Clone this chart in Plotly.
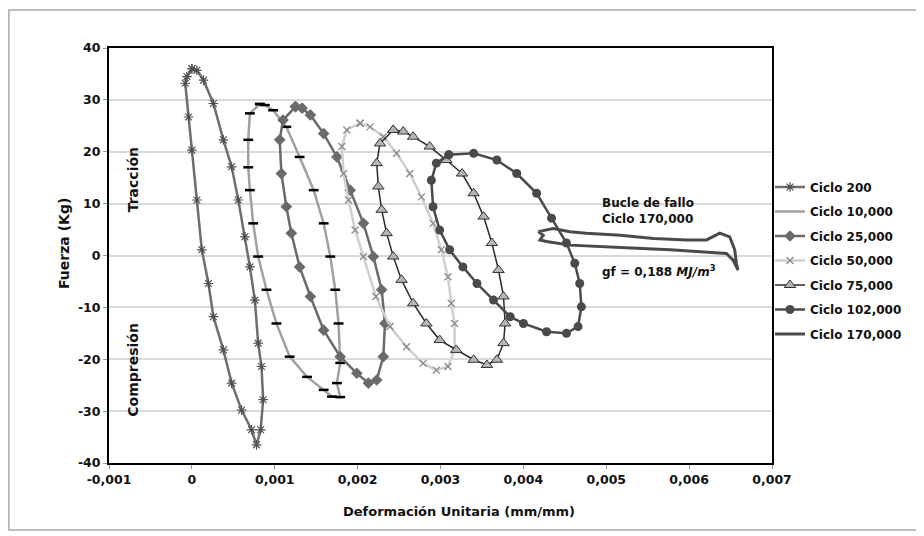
import plotly.graph_objects as go

# ---- data ----
c200_x = [0.0, -0.00006, -0.00008, -0.00004, 0.0, 0.00006, 0.00012, 0.0002, 0.00026, 0.00038, 0.00048, 0.0006, 0.00072, 0.00078,
          0.00083, 0.00086, 0.00084, 0.0008, 0.00076, 0.0007, 0.00064, 0.00056, 0.00048, 0.00038, 0.00026, 0.00014, 0.00006, 0.0]
c200_y = [36.0, 34.5, 33.2, 26.7, 20.3, 10.7, 1.1, -5.4, -11.8, -18.2, -24.6, -29.8, -33.6, -36.5,
          -33.6, -27.8, -21.4, -16.9, -8.6, -2.2, 3.6, 10.7, 17.1, 22.3, 29.3, 33.8, 35.7, 36.0]

c10k_x = [0.00082, 0.0007, 0.00068, 0.00068, 0.0007, 0.00074, 0.0008, 0.0009, 0.00102, 0.00118, 0.00139, 0.00159, 0.00169, 0.00179,
          0.00175, 0.00179, 0.00177, 0.00173, 0.00167, 0.00159, 0.00147, 0.0013, 0.00114, 0.00098, 0.00088, 0.00082]
c10k_y = [29.2, 27.4, 22.3, 17.0, 12.6, 6.2, -0.2, -6.6, -13.1, -19.5, -23.4, -25.9, -27.2, -27.3,
          -24.6, -20.7, -13.1, -6.6, -0.2, 6.2, 12.6, 19.0, 24.8, 28.0, 29.0, 29.2]

c25k_x = [0.00125, 0.0011, 0.00106, 0.00108, 0.00114, 0.0012, 0.0013, 0.00143, 0.00159, 0.00179, 0.00199, 0.00213, 0.00223,
          0.00231, 0.00233, 0.00229, 0.00219, 0.00207, 0.00191, 0.00175, 0.00159, 0.00143, 0.00133, 0.00125]
c25k_y = [28.7, 26.1, 22.3, 15.8, 9.4, 4.3, -2.2, -7.9, -14.4, -19.5, -22.7, -24.6, -24.0,
          -19.5, -13.1, -6.6, -0.2, 6.2, 12.6, 19.0, 23.5, 27.1, 28.4, 28.7]

c50k_x = [0.00203, 0.00187, 0.00181, 0.00183, 0.00189, 0.00197, 0.00207, 0.00222, 0.00239, 0.00259, 0.00279, 0.00295, 0.00309,
          0.00317, 0.00317, 0.00313, 0.00309, 0.00301, 0.00291, 0.00277, 0.00263, 0.00247, 0.00231, 0.00215, 0.00203]
c50k_y = [25.5, 24.2, 21.0, 15.8, 10.7, 4.9, -0.2, -7.9, -13.7, -17.6, -20.8, -22.1, -21.4,
          -18.2, -13.1, -9.2, -4.1, 1.1, 6.2, 11.3, 15.8, 19.7, 22.9, 24.8, 25.5]

c75k_x = [0.00243, 0.00227, 0.00223, 0.00225, 0.00229, 0.00235, 0.00243, 0.00253, 0.00267, 0.00283, 0.00299, 0.00319, 0.0034, 0.00356,
          0.00368, 0.00376, 0.00378, 0.00376, 0.0037, 0.00362, 0.00352, 0.0034, 0.00326, 0.00307, 0.00287, 0.00267, 0.00255, 0.00243]
c75k_y = [24.2, 21.6, 17.8, 13.3, 8.8, 4.3, -0.2, -4.7, -9.2, -13.1, -16.3, -18.2, -20.1, -21.1,
          -20.1, -16.9, -13.1, -7.9, -2.8, 2.4, 7.5, 12.0, 15.8, 18.4, 21.0, 22.9, 23.9, 24.2]

c102k_x = [0.0031, 0.00295, 0.00289, 0.00291, 0.00299, 0.00311, 0.00327, 0.00344, 0.00364, 0.00384, 0.004, 0.00428, 0.00452,
           0.00466, 0.0047, 0.00468, 0.00462, 0.00452, 0.00434, 0.00416, 0.00392, 0.00368, 0.0034, 0.0031]
c102k_y = [19.4, 17.8, 14.5, 9.4, 4.9, 1.1, -2.2, -5.4, -8.6, -11.8, -13.1, -14.7, -15.0,
           -13.7, -9.9, -5.4, -1.5, 2.4, 7.2, 12.0, 15.8, 18.4, 19.7, 19.4]

c170k_x = [0.00418, 0.00436, 0.00456, 0.00476, 0.00517, 0.00557, 0.00597, 0.00621, 0.00637, 0.00649, 0.00655, 0.00657, 0.00659,
           0.00653, 0.00645, 0.00617, 0.00577, 0.00537, 0.00496, 0.00456, 0.00428, 0.0042, 0.00424, 0.00418]
c170k_y = [4.6, 5.2, 4.6, 4.3, 3.9, 3.3, 3.0, 3.0, 4.3, 3.6, 1.1, -1.5, -2.8,
           -0.9, 0.4, 0.7, 1.1, 1.4, 1.7, 2.0, 2.7, 3.0, 3.9, 4.6]

series_names = ["Ciclo 200", "Ciclo 10,000", "Ciclo 25,000", "Ciclo 50,000",
                "Ciclo 75,000", "Ciclo 102,000", "Ciclo 170,000"]

x_tick_vals = [-0.001, 0, 0.001, 0.002, 0.003, 0.004, 0.005, 0.006, 0.007]
x_tick_text = ["-0,001", "0", "0,001", "0,002", "0,003", "0,004", "0,005", "0,006", "0,007"]
y_tick_vals = [-40, -30, -20, -10, 0, 10, 20, 30, 40]
y_tick_text = ["-40", "-30", "-20", "-10", "0", "10", "20", "30", "40"]

FONT = "DejaVu Sans"

fig = go.Figure()

# Ciclo 200
fig.add_trace(go.Scatter(x=c200_x, y=c200_y, name=series_names[0], mode="lines+markers",
                         line=dict(color="#6e6e6e", width=2.5),
                         marker=dict(symbol="asterisk-open", size=8, color="#505050", line=dict(width=1.2, color="#505050")),
                         legendgroup="g1"))
# Ciclo 10,000 (line) + its black dash markers (no legend entry)
fig.add_trace(go.Scatter(x=c10k_x, y=c10k_y, name=series_names[1], mode="lines",
                         line=dict(color="#a0a0a0", width=2.5), legendgroup="g2"))
fig.add_trace(go.Scatter(x=c10k_x, y=c10k_y, mode="markers", showlegend=False, hoverinfo="skip",
                         marker=dict(symbol="line-ew-open", size=7, color="black", line=dict(width=2.5, color="black")),
                         legendgroup="g2"))
# Ciclo 25,000
fig.add_trace(go.Scatter(x=c25k_x, y=c25k_y, name=series_names[2], mode="lines+markers",
                         line=dict(color="#6a6a6a", width=2.5),
                         marker=dict(symbol="diamond", size=9, color="#6a6a6a"), legendgroup="g3"))
# Ciclo 50,000
fig.add_trace(go.Scatter(x=c50k_x, y=c50k_y, name=series_names[3], mode="lines+markers",
                         line=dict(color="#cfcfcf", width=2.5),
                         marker=dict(symbol="x-thin-open", size=7, color="#8a8a8a", line=dict(width=1.3, color="#8a8a8a")),
                         legendgroup="g4"))
# Ciclo 75,000
fig.add_trace(go.Scatter(x=c75k_x, y=c75k_y, name=series_names[4], mode="lines+markers",
                         line=dict(color="#2a2a2a", width=1.5),
                         marker=dict(symbol="triangle-up", size=10, color="#b5b5b5", line=dict(width=1, color="#333333")),
                         legendgroup="g5"))
# Ciclo 102,000
fig.add_trace(go.Scatter(x=c102k_x, y=c102k_y, name=series_names[5], mode="lines+markers",
                         line=dict(color="#4a4a4a", width=2.5),
                         marker=dict(symbol="circle", size=9, color="#4a4a4a"), legendgroup="g6"))
# Ciclo 170,000
fig.add_trace(go.Scatter(x=c170k_x, y=c170k_y, name=series_names[6], mode="lines",
                         line=dict(color="#4a4a4a", width=3), legendgroup="g7"))

# the page body has an 8px margin, so the figure is drawn 8px smaller
fig.update_layout(
    width=916, height=528,
    margin=dict(l=101, r=152, t=40, b=73, autoexpand=False),
    paper_bgcolor="white", plot_bgcolor="white",
    font=dict(family=FONT, size=12, color="#111111", weight="bold"),
    legend=dict(x=0.997, y=0.70, xanchor="left", yanchor="top", tracegroupgap=5.5,
                font=dict(family=FONT, size=12, color="#111111", weight="bold"),
                bgcolor="rgba(0,0,0,0)", itemwidth=30),
    showlegend=True,
)

fig.update_xaxes(range=[-0.001, 0.007], tickvals=x_tick_vals, ticktext=x_tick_text,
                 showgrid=False, zeroline=False,
                 showline=True, linecolor="black", linewidth=2, mirror=True,
                 ticks="outside", ticklen=4, tickcolor="#999999",
                 tickfont=dict(family=FONT, size=12.5, weight="bold"))
fig.update_yaxes(range=[-40, 40], tickvals=y_tick_vals, ticktext=y_tick_text,
                 showgrid=True, gridcolor="#d9d9d9", gridwidth=1.5, zeroline=False,
                 showline=True, linecolor="black", linewidth=2, mirror=True,
                 ticks="outside", ticklen=4, tickcolor="#999999",
                 tickfont=dict(family=FONT, size=12.5, weight="bold"))

title_font = dict(family=FONT, size=13, color="#111111", weight="bold")
ann_font = dict(family=FONT, size=12, color="#111111", weight="bold")

# axis titles
fig.add_annotation(x=0.528, y=-0.118, xref="paper", yref="paper", yanchor="middle",
                   text="Deformación Unitaria (mm/mm)", showarrow=False, font=title_font)
fig.add_annotation(x=-0.083, y=0.53, xref="paper", yref="paper", textangle=-90,
                   text="Fuerza (Kg)", showarrow=False, font=dict(family=FONT, size=14, color="#111111", weight="bold"))

fig.add_annotation(x=-0.00071, y=14.5, xref="x", yref="y", text="Tracción", textangle=-90,
                   showarrow=False, font=dict(family=FONT, size=14, color="#111111", weight="bold"))
fig.add_annotation(x=-0.00071, y=-22, xref="x", yref="y", text="Compresión", textangle=-90,
                   showarrow=False, font=dict(family=FONT, size=14, color="#111111", weight="bold"))
fig.add_annotation(x=0.00493, y=8.5, xref="x", yref="y", xanchor="left", align="left",
                   text="Bucle de fallo<br>Ciclo 170,000", showarrow=False, font=ann_font)
fig.add_annotation(x=0.00493, y=-3.0, xref="x", yref="y", xanchor="left", align="left",
                   text="gf = 0,188 <i>MJ/m</i><sup>3</sup>", showarrow=False, font=ann_font)

# outer light frame around the whole chart
fig.add_shape(type="rect", xref="paper", yref="paper",
              x0=-0.151, x1=1.2217, y0=-0.1614, y1=1.0916,
              line=dict(color="#a8a8a8", width=1.5), fillcolor="rgba(0,0,0,0)", layer="below")

fig.write_html("out.html")
